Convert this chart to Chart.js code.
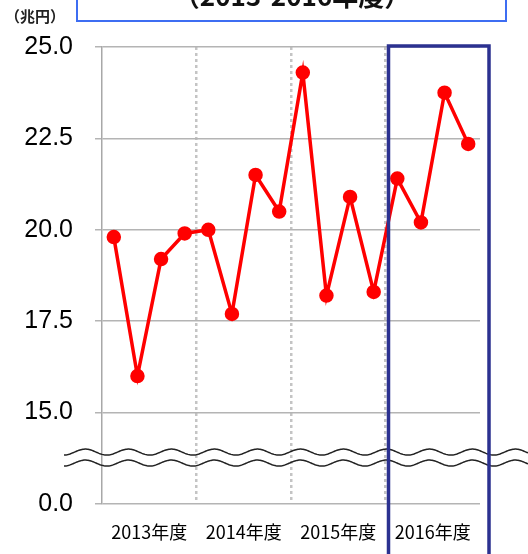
<!DOCTYPE html>
<html>
<head>
<meta charset="utf-8">
<script src="https://cdn.jsdelivr.net/npm/chart.js@4"></script>
<style>
  body { margin: 0; background: #fff; }
  #wrap { position: relative; width: 528px; height: 554px; overflow: hidden; }
  #titleBox {
    position: absolute; left: 76px; top: -40px; width: 427px; height: 58px;
    border: 2.5px solid #3d6df2; box-sizing: content-box;
  }
  #titleText {
    position: absolute; left: 76px; width: 432px; top: -19px; text-align: center;
    font: bold 26px "Noto Sans CJK JP", sans-serif; line-height: 28px; color: #111;
  }
  #unit {
    position: absolute; left: 5px; top: 5px;
    font: bold 15px "Noto Sans CJK JP", sans-serif; color: #222;
  }
</style>
</head>
<body>
<div id="wrap">
  <canvas id="chart" width="528" height="554"></canvas>
  <div id="titleBox"></div>
  <div id="titleText">（2013-2016年度）</div>
  <div id="unit">（兆円）</div>
</div>
<script>
const years = ['2013年度', '2014年度', '2015年度', '2016年度'];
// quarterly values (trillion yen), 4 per fiscal year
const values = [19.8, 16.0, 19.2, 19.9, 20.0, 17.7, 21.5, 20.5, 24.3, 18.2, 20.9, 18.3, 21.4, 20.2, 23.75, 22.35];
const yTickValues = [12.5, 15, 17.5, 20, 22.5, 25];
const yTickLabels = ['0.0', '15.0', '17.5', '20.0', '22.5', '25.0'];

const points = values.map((v, i) => ({ x: i + 0.5, y: v }));

// wavy "axis break" lines between 0.0 and 15.0
const breakMarks = {
  id: 'breakMarks',
  afterDatasetsDraw(chart) {
    const ctx = chart.ctx;
    const y = chart.scales.y;
    const drawWave = (y0) => {
      ctx.beginPath();
      for (let x = 64; x <= 528; x++) {
        const yy = y0 + 3 * Math.sin((x - 64) / 43 * 2 * Math.PI + 1.6);
        if (x === 64) ctx.moveTo(x, yy); else ctx.lineTo(x, yy);
      }
      ctx.stroke();
    };
    ctx.save();
    ctx.strokeStyle = '#222';
    ctx.lineWidth = 1.5;
    drawWave(y.getPixelForValue(13.92));
    drawWave(y.getPixelForValue(13.62));
    ctx.restore();
  }
};

// navy frame around the latest fiscal year
const highlightBox = {
  id: 'highlightBox',
  afterDraw(chart) {
    const ctx = chart.ctx;
    const x = chart.scales.x;
    const left = x.getPixelForValue(12) + 3;
    const right = x.right + 9;
    const top = chart.chartArea.top - 1;
    ctx.save();
    ctx.strokeStyle = '#2b3190';
    ctx.lineWidth = 3.5;
    ctx.strokeRect(left, top, right - left, 520);
    ctx.restore();
  }
};

new Chart(document.getElementById('chart'), {
  type: 'line',
  data: {
    datasets: [{
      data: points,
      borderColor: '#ff0000',
      backgroundColor: '#ff0000',
      borderWidth: 3.5,
      pointRadius: 5.5,
      pointHoverRadius: 5.5,
      tension: 0
    }]
  },
  options: {
    responsive: false,
    animation: false,
    layout: { padding: { top: 47, right: 48, left: 0, bottom: 0 } },
    plugins: { legend: { display: false }, tooltip: { enabled: false } },
    scales: {
      x: {
        type: 'linear',
        min: 0,
        max: 16,
        afterBuildTicks: (scale) => {
          scale.ticks = [2, 4, 6, 8, 10, 12, 14].map(v => ({ value: v }));
        },
        afterFit: (scale) => { scale.height = 50; },
        ticks: {
          autoSkip: false,
          maxRotation: 0,
          padding: 17,
          color: '#000',
          font: { family: '"Noto Sans CJK JP", sans-serif', size: 18 },
          callback: (v) => (v % 4 === 2 ? years[(v - 2) / 4] : '')
        },
        grid: {
          drawTicks: false,
          lineWidth: 2.5,
          color: (c) => (c.tick && c.tick.value % 4 === 0 ? '#c4c4c4' : 'rgba(0,0,0,0)')
        },
        border: { display: false, dash: [3, 3] }
      },
      y: {
        min: 12.5,
        max: 25,
        afterBuildTicks: (scale) => {
          scale.ticks = yTickValues.map(v => ({ value: v }));
        },
        afterFit: (scale) => { scale.width = 102; },
        ticks: {
          padding: 22,
          color: '#000',
          font: { family: '"Liberation Sans", sans-serif', size: 25 },
          callback: (v) => yTickLabels[yTickValues.indexOf(v)]
        },
        grid: {
          color: '#b4b4b4',
          lineWidth: 1.5,
          tickLength: 7,
          tickColor: '#b4b4b4'
        },
        border: { color: '#a8a8a8', width: 1.5 }
      }
    }
  },
  plugins: [breakMarks, highlightBox]
});
</script>
</body>
</html>
